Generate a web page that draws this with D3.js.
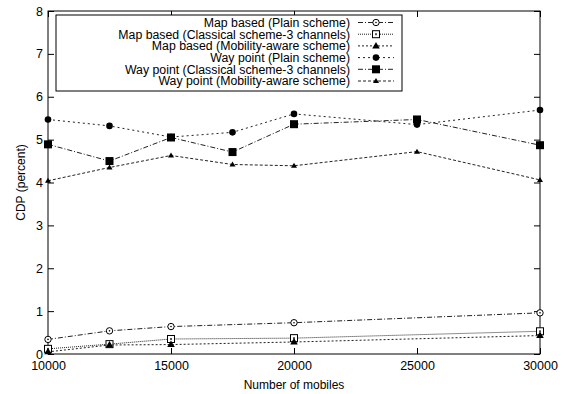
<!DOCTYPE html>
<html>
  <head>
    <meta charset="utf-8">
    <script src="https://d3js.org/d3.v7.min.js"></script>
    <style>
      body { margin: 0; background: #fff; }
      text { font-family: "Liberation Sans", Arial, sans-serif; font-size: 12px; fill: #000; }
    </style>
  </head>
  <body>
    <svg id="chart" width="575" height="394"></svg>
    <script>
      // data
      const xTicks = [10000, 15000, 20000, 25000, 30000]
      const yTicks = [0, 1, 2, 3, 4, 5, 6, 7, 8]

      const mapX = [10000, 12500, 15000, 20000, 30000]
      const wayX = [10000, 12500, 15000, 17500, 20000, 25000, 30000]

      const mapPlain     = [0.34, 0.54, 0.64, 0.73, 0.96]
      const mapClassical = [0.12, 0.23, 0.35, 0.37, 0.53]
      const mapMobility  = [0.05, 0.21, 0.22, 0.28, 0.43]
      const wayPlain     = [5.47, 5.32, 5.06, 5.17, 5.6, 5.35, 5.69]
      const wayClassical = [4.89, 4.5, 5.05, 4.71, 5.36, 5.47, 4.87]
      const wayMobility  = [4.04, 4.35, 4.63, 4.42, 4.39, 4.72, 4.06]

      const series = [
        {name: 'Map based (Plain scheme)', xs: mapX, ys: mapPlain, dash: '5,2,1,2', marker: 'ocircle'},
        {name: 'Map based (Classical scheme-3 channels)', xs: mapX, ys: mapClassical, dash: '1,1', marker: 'osquare'},
        {name: 'Map based (Mobility-aware scheme)', xs: mapX, ys: mapMobility, dash: '2,2', marker: 'triangle'},
        {name: 'Way point (Plain scheme)', xs: wayX, ys: wayPlain, dash: '2,3', marker: 'fcircle'},
        {name: 'Way point (Classical scheme-3 channels)', xs: wayX, ys: wayClassical, dash: '5,2,1,2', marker: 'fsquare'},
        {name: 'Way point (Mobility-aware scheme)', xs: wayX, ys: wayMobility, dash: '3,2', marker: 'striangle'}
      ]

      const svg = d3.select('#chart')
      const pl = 48, pr = 540, pt = 11, pb = 354

      const x = d3.scaleLinear().domain([10000, 30000]).range([pl, pr])
      const y = d3.scaleLinear().domain([0, 8]).range([pb, pt])

      // axes with inward ticks on all four sides
      svg.append('g').attr('transform', `translate(0,${pb})`)
        .call(d3.axisBottom(x).tickValues(xTicks).tickSizeInner(-6).tickSizeOuter(0).tickPadding(7).tickFormat(d3.format('d')))
      svg.append('g').attr('transform', `translate(0,${pt})`)
        .call(d3.axisTop(x).tickValues(xTicks).tickSizeInner(-6).tickSizeOuter(0).tickFormat(''))
      svg.append('g').attr('transform', `translate(${pl},0)`)
        .call(d3.axisLeft(y).tickValues(yTicks).tickSizeInner(-6).tickSizeOuter(0).tickPadding(5))
      svg.append('g').attr('transform', `translate(${pr},0)`)
        .call(d3.axisRight(y).tickValues(yTicks).tickSizeInner(-6).tickSizeOuter(0).tickFormat(''))
      svg.selectAll('.domain').remove()
      svg.selectAll('.tick text').style('font-size', '12.5px').style('font-family', '"Liberation Sans", Arial, sans-serif')
      svg.selectAll('.tick line').attr('stroke', '#000')

      svg.append('rect')
        .attr('x', pl).attr('y', pt)
        .attr('width', pr - pl).attr('height', pb - pt)
        .attr('fill', 'none').attr('stroke', '#000').attr('stroke-width', 1)

      // axis titles
      svg.append('text').attr('x', (pl + pr) / 2).attr('y', 389)
        .attr('text-anchor', 'middle').text('Number of mobiles')
      svg.append('text').attr('transform', `translate(25,${(pt + pb) / 2}) rotate(-90)`)
        .attr('text-anchor', 'middle').text('CDP (percent)')

      function drawMarker(g, type, cx, cy) {
        if (type == 'ocircle') {
          g.append('circle').attr('cx', cx).attr('cy', cy).attr('r', 3.2)
            .attr('fill', '#fff').attr('stroke', '#000').attr('stroke-width', 1)
          g.append('circle').attr('cx', cx).attr('cy', cy).attr('r', 0.8).attr('fill', '#000')
        } else if (type == 'fcircle') {
          g.append('circle').attr('cx', cx).attr('cy', cy).attr('r', 3.3).attr('fill', '#000')
        } else if (type == 'osquare') {
          g.append('rect').attr('x', cx - 3.5).attr('y', cy - 3.5).attr('width', 7).attr('height', 7)
            .attr('fill', '#fff').attr('stroke', '#000').attr('stroke-width', 1)
          g.append('rect').attr('x', cx - 1).attr('y', cy - 1).attr('width', 2).attr('height', 2).attr('fill', '#555')
        } else if (type == 'fsquare') {
          g.append('rect').attr('x', cx - 4).attr('y', cy - 4).attr('width', 8).attr('height', 8).attr('fill', '#000')
        } else if (type == 'triangle') {
          g.append('path').attr('d', `M${cx},${cy - 4}L${cx + 3.8},${cy + 2.5}L${cx - 3.8},${cy + 2.5}Z`).attr('fill', '#000')
        } else if (type == 'striangle') {
          g.append('path').attr('d', `M${cx},${cy - 3}L${cx + 3},${cy + 2}L${cx - 3},${cy + 2}Z`).attr('fill', '#000')
        }
      }

      const line = d3.line().x(d => x(d[0])).y(d => y(d[1]))

      series.forEach(s => {
        const pts = s.xs.map((v, i) => [v, s.ys[i]])
        const g = svg.append('g')
        g.append('path').datum(pts).attr('d', line)
          .attr('fill', 'none').attr('stroke', '#222').attr('stroke-width', 1)
          .attr('stroke-dasharray', s.dash)
        pts.forEach(p => drawMarker(g, s.marker, x(p[0]), y(p[1])))
      })

      // legend
      const lg = svg.append('g')
      lg.append('rect').attr('x', 56).attr('y', 15).attr('width', 346).attr('height', 76)
        .attr('fill', '#fff').attr('stroke', '#000').attr('stroke-width', 1)
      series.forEach((s, i) => {
        const ry = 22.5 + i * 11.7
        lg.append('text').attr('x', 350).attr('y', ry + 4.3).attr('text-anchor', 'end')
          .style('font-size', '12.3px').text(s.name)
        lg.append('line').attr('x1', 358).attr('x2', 394).attr('y1', ry).attr('y2', ry)
          .attr('stroke', '#222').attr('stroke-width', 1).attr('stroke-dasharray', s.dash)
        drawMarker(lg, s.marker, 376, ry)
      })
    </script>
  </body>
</html>
